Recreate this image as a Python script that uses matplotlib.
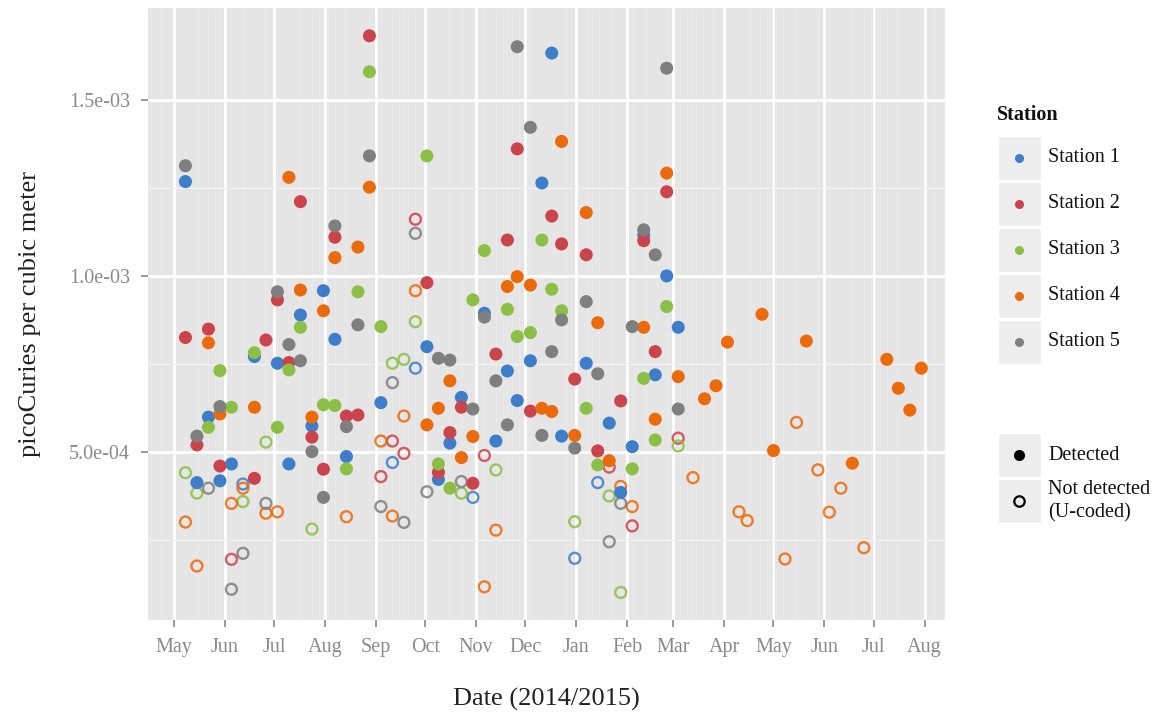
import matplotlib
matplotlib.use('Agg')
import matplotlib.pyplot as plt
import matplotlib.dates as mdates
from matplotlib.lines import Line2D
from matplotlib.patches import Rectangle
from matplotlib.ticker import FixedLocator, FuncFormatter
import datetime as dt
import numpy as np

plt.rcParams['font.family'] = ['Liberation Serif', 'DejaVu Serif']

# ---------------- data (values in units of 1e-4 pCi/m^3) ----------------
UNIT = 1e-4

stations = ['Station 1', 'Station 2', 'Station 3', 'Station 4', 'Station 5']
colors = ['#3D7DCA', '#CC444B', '#8CBF45', '#EB6A0C', '#7F7F7F']

s1_det_dates = ['2014-05-08', '2014-05-15', '2014-05-22', '2014-05-29', '2014-06-05', '2014-06-19',
                '2014-07-03', '2014-07-10', '2014-07-17', '2014-07-24', '2014-07-31', '2014-08-07',
                '2014-08-14', '2014-09-04', '2014-10-02', '2014-10-09', '2014-10-16', '2014-10-23',
                '2014-11-06', '2014-11-13', '2014-11-20', '2014-11-26', '2014-12-04', '2014-12-11',
                '2014-12-17', '2014-12-23', '2015-01-07', '2015-01-21', '2015-01-28', '2015-02-04',
                '2015-02-11', '2015-02-18', '2015-02-25', '2015-03-04']
s1_det_vals = [12.68, 4.13, 5.99, 4.18, 4.66, 7.71,
               7.52, 4.66, 8.89, 5.74, 9.58, 8.20,
               4.87, 6.40, 7.99, 4.22, 5.25, 6.55,
               8.94, 5.31, 7.30, 6.46, 7.59, 12.64,
               16.33, 5.45, 7.52, 5.82, 3.85, 5.15,
               11.16, 7.19, 10.00, 8.54]
s1_nd_dates = ['2014-06-12', '2014-09-11', '2014-09-25', '2014-10-30', '2014-12-31', '2015-01-14']
s1_nd_vals = [4.09, 4.70, 7.38, 3.71, 1.98, 4.13]

s2_det_dates = ['2014-05-08', '2014-05-15', '2014-05-22', '2014-05-29', '2014-06-19', '2014-06-26',
                '2014-07-03', '2014-07-10', '2014-07-17', '2014-07-24', '2014-07-31', '2014-08-07',
                '2014-08-14', '2014-08-21', '2014-08-28', '2014-10-02', '2014-10-09', '2014-10-16',
                '2014-10-23', '2014-10-30', '2014-11-13', '2014-11-20', '2014-11-26', '2014-12-04',
                '2014-12-17', '2014-12-23', '2014-12-31', '2015-01-07', '2015-01-14', '2015-01-28',
                '2015-02-11', '2015-02-18', '2015-02-25']
s2_det_vals = [8.25, 5.20, 8.49, 4.60, 4.25, 8.18,
               9.32, 7.54, 12.11, 5.42, 4.51, 11.10,
               6.02, 6.05, 16.82, 9.81, 4.42, 5.55,
               6.27, 4.11, 7.78, 11.02, 13.61, 6.16,
               11.70, 10.91, 7.07, 10.60, 5.03, 6.45,
               11.00, 7.85, 12.39]
s2_nd_dates = ['2014-06-05', '2014-09-04', '2014-09-11', '2014-09-18', '2014-09-25', '2014-11-06',
               '2015-01-21', '2015-02-04', '2015-03-04']
s2_nd_vals = [1.95, 4.30, 5.31, 4.96, 11.61, 4.90, 4.57, 2.90, 5.39]

s3_det_dates = ['2014-05-22', '2014-05-29', '2014-06-05', '2014-06-19', '2014-07-03', '2014-07-10',
                '2014-07-17', '2014-07-31', '2014-08-07', '2014-08-14', '2014-08-21', '2014-08-28',
                '2014-09-04', '2014-10-02', '2014-10-09', '2014-10-16', '2014-10-30', '2014-11-06',
                '2014-11-20', '2014-11-26', '2014-12-04', '2014-12-11', '2014-12-17', '2014-12-23',
                '2015-01-07', '2015-01-14', '2015-02-04', '2015-02-11', '2015-02-18', '2015-02-25']
s3_det_vals = [5.70, 7.31, 6.27, 7.82, 5.70, 7.33,
               8.54, 6.34, 6.32, 4.52, 9.55, 15.80,
               8.56, 13.41, 4.66, 3.97, 9.32, 10.72,
               9.05, 8.28, 8.39, 11.02, 9.62, 9.01,
               6.24, 4.63, 4.52, 7.09, 5.34, 9.13]
s3_nd_dates = ['2014-05-08', '2014-05-15', '2014-06-12', '2014-06-26', '2014-07-24', '2014-09-11',
               '2014-09-18', '2014-09-25', '2014-10-23', '2014-11-13', '2014-12-31', '2015-01-21',
               '2015-01-28', '2015-03-04']
s3_nd_vals = [4.41, 3.83, 3.59, 5.28, 2.81, 7.52,
              7.63, 8.70, 3.83, 4.49, 3.02, 3.75,
              1.01, 5.17]

s4_det_dates = ['2014-05-22', '2014-05-29', '2014-06-19', '2014-07-10', '2014-07-17', '2014-07-24',
                '2014-07-31', '2014-08-07', '2014-08-21', '2014-08-28', '2014-10-02', '2014-10-09',
                '2014-10-16', '2014-10-23', '2014-10-30', '2014-11-20', '2014-11-26', '2014-12-04',
                '2014-12-11', '2014-12-17', '2014-12-23', '2014-12-31', '2015-01-07', '2015-01-14',
                '2015-01-21', '2015-02-11', '2015-02-18', '2015-02-25', '2015-03-04', '2015-03-20',
                '2015-03-27', '2015-04-03', '2015-04-24', '2015-05-01', '2015-05-21', '2015-06-18',
                '2015-07-09', '2015-07-16', '2015-07-23', '2015-07-30']
s4_det_vals = [8.10, 6.08, 6.27, 12.80, 9.60, 5.99,
               9.01, 10.52, 10.82, 12.52, 5.77, 6.24,
               7.02, 4.84, 5.44, 9.70, 9.98, 9.74,
               6.24, 6.15, 13.82, 5.47, 11.80, 8.67,
               4.75, 8.54, 5.93, 12.92, 7.14, 6.51,
               6.88, 8.12, 8.91, 5.04, 8.15, 4.68,
               7.63, 6.81, 6.19, 7.38]
s4_nd_dates = ['2014-05-08', '2014-05-15', '2014-06-05', '2014-06-12', '2014-06-26', '2014-07-03',
               '2014-08-14', '2014-09-04', '2014-09-11', '2014-09-18', '2014-09-25', '2014-11-06',
               '2014-11-13', '2015-01-28', '2015-02-04', '2015-03-13', '2015-04-10', '2015-04-15',
               '2015-05-08', '2015-05-15', '2015-05-28', '2015-06-04', '2015-06-11', '2015-06-25']
s4_nd_vals = [3.01, 1.76, 3.54, 3.97, 3.26, 3.30,
              3.16, 5.31, 3.18, 6.02, 9.58, 1.17,
              2.78, 4.02, 3.45, 4.27, 3.30, 3.05,
              1.96, 5.84, 4.49, 3.29, 3.97, 2.28]

s5_det_dates = ['2014-05-08', '2014-05-15', '2014-05-29', '2014-07-03', '2014-07-10', '2014-07-17',
                '2014-07-24', '2014-07-31', '2014-08-07', '2014-08-14', '2014-08-21', '2014-08-28',
                '2014-10-09', '2014-10-16', '2014-10-30', '2014-11-06', '2014-11-13', '2014-11-20',
                '2014-11-26', '2014-12-04', '2014-12-11', '2014-12-17', '2014-12-23', '2014-12-31',
                '2015-01-07', '2015-01-14', '2015-02-04', '2015-02-11', '2015-02-18', '2015-02-25',
                '2015-03-04']
s5_det_vals = [13.13, 5.45, 6.29, 9.55, 8.05, 7.59,
               5.01, 3.71, 11.42, 5.72, 8.61, 13.41,
               7.66, 7.61, 6.22, 8.83, 7.02, 5.77,
               16.51, 14.22, 5.47, 7.85, 8.75, 5.11,
               9.27, 7.22, 8.56, 11.31, 10.60, 15.90,
               6.22]
s5_nd_dates = ['2014-05-22', '2014-06-05', '2014-06-12', '2014-06-26', '2014-09-04', '2014-09-11',
               '2014-09-18', '2014-09-25', '2014-10-02', '2014-10-23', '2015-01-21', '2015-01-28']
s5_nd_vals = [3.97, 1.10, 2.12, 3.54, 3.45, 6.97,
              3.00, 11.21, 3.87, 4.16, 2.45, 3.54]

det_sets = [(s1_det_dates, s1_det_vals), (s2_det_dates, s2_det_vals), (s3_det_dates, s3_det_vals),
            (s4_det_dates, s4_det_vals), (s5_det_dates, s5_det_vals)]
nd_sets = [(s1_nd_dates, s1_nd_vals), (s2_nd_dates, s2_nd_vals), (s3_nd_dates, s3_nd_vals),
           (s4_nd_dates, s4_nd_vals), (s5_nd_dates, s5_nd_vals)]

y_ticks = [5e-4, 1e-3, 1.5e-3]

# ---------------- figure ----------------
W, H = 1159, 716
fig = plt.figure(figsize=(W / 100, H / 100), dpi=100)
fig.patch.set_facecolor('white')
ax = fig.add_axes([148 / W, 1 - 620 / H, (945 - 148) / W, (620 - 8) / H])
ax.set_facecolor('#E5E5E5')


def to_dt(s):
    return dt.datetime.strptime(s, '%Y-%m-%d')


def fx(x):
    return x / W


def fy(y):
    return 1 - y / H


for (dd, vv), c in zip(nd_sets, colors):
    ax.scatter([to_dt(d) for d in dd], np.array(vv) * UNIT, s=62, facecolors='none',
               edgecolors=c, linewidths=1.7, alpha=0.85, zorder=3)
for (dd, vv), c in zip(det_sets, colors):
    ax.scatter([to_dt(d) for d in dd], np.array(vv) * UNIT, s=88, color=c,
               edgecolors='none', zorder=4)

ax.set_xlim(dt.datetime(2014, 4, 15, 5), dt.datetime(2015, 8, 13, 10))
ax.set_ylim(2.27e-5, 1.761e-3)

ax.xaxis.set_major_locator(mdates.MonthLocator())
ax.xaxis.set_major_formatter(mdates.DateFormatter('%b'))
ax.xaxis.set_minor_locator(mdates.WeekdayLocator(byweekday=mdates.TH))
ax.yaxis.set_major_locator(FixedLocator(y_ticks))
ax.yaxis.set_minor_locator(FixedLocator([2.5e-4, 7.5e-4, 1.25e-3]))
ax.yaxis.set_major_formatter(FuncFormatter(lambda v, p: '{:.1e}'.format(v)))

ax.grid(which='major', color='white', linewidth=2.0)
ax.grid(which='minor', axis='x', color='#EAEAEA', linewidth=0.6)
ax.grid(which='minor', axis='y', color='#F2F2F2', linewidth=0.9)
ax.set_axisbelow(True)
for sp in ax.spines.values():
    sp.set_visible(False)

ax.tick_params(axis='both', which='major', colors='#8A8A8A', labelcolor='#8A8A8A',
               labelsize=14.5, length=5, width=1.2)
ax.tick_params(axis='x', which='major', pad=8)
ax.tick_params(axis='y', which='major', pad=8)
ax.tick_params(axis='both', which='minor', length=0)

fig.text(fx(546), fy(699), 'Date (2014/2015)', fontsize=19, color='#222222',
         ha='center', va='center')
ax.set_ylabel('picoCuries per cubic meter', fontsize=19, color='#222222', labelpad=20)

# ---------------- legends (drawn manually, ggplot style) ----------------
fig.text(fx(997), fy(115), 'Station', fontsize=14.5, fontweight='bold', va='center', ha='left',
         color='#111111')
key_top = 135
key_h = 46
for i, (name, c) in enumerate(zip(stations, colors)):
    top = key_top + i * key_h
    fig.add_artist(Rectangle((fx(998), fy(top + key_h - 1)), (1041 - 998) / W, (key_h - 2) / H,
                             transform=fig.transFigure, facecolor='#EDEDED', edgecolor='white',
                             linewidth=1))
    cy = top + key_h / 2
    fig.add_artist(Line2D([fx(1019)], [fy(cy)], marker='o', markersize=6.5, color=c,
                          markeredgecolor='none', transform=fig.transFigure))
    fig.text(fx(1048), fy(cy), name, fontsize=14.5, va='center', ha='left', color='#111111')

leg2_top = 432
leg2_items = [('Detected', True), ('Not detected\n(U-coded)', False)]
for i, (lab, filled) in enumerate(leg2_items):
    top = leg2_top + i * key_h
    fig.add_artist(Rectangle((fx(998), fy(top + key_h - 1)), (1041 - 998) / W, (key_h - 2) / H,
                             transform=fig.transFigure, facecolor='#EDEDED', edgecolor='white',
                             linewidth=1))
    cy = top + key_h / 2
    if filled:
        fig.add_artist(Line2D([fx(1019)], [fy(cy)], marker='o', markersize=8, color='black',
                              markeredgecolor='none', transform=fig.transFigure))
    else:
        fig.add_artist(Line2D([fx(1019)], [fy(cy)], marker='o', markersize=7.5,
                              markerfacecolor='none', markeredgecolor='black',
                              markeredgewidth=1.6, transform=fig.transFigure))
    fig.text(fx(1048), fy(cy), lab, fontsize=14.5, va='center', ha='left', color='#111111',
             linespacing=1.3)

fig.savefig('out.png', dpi=100)
